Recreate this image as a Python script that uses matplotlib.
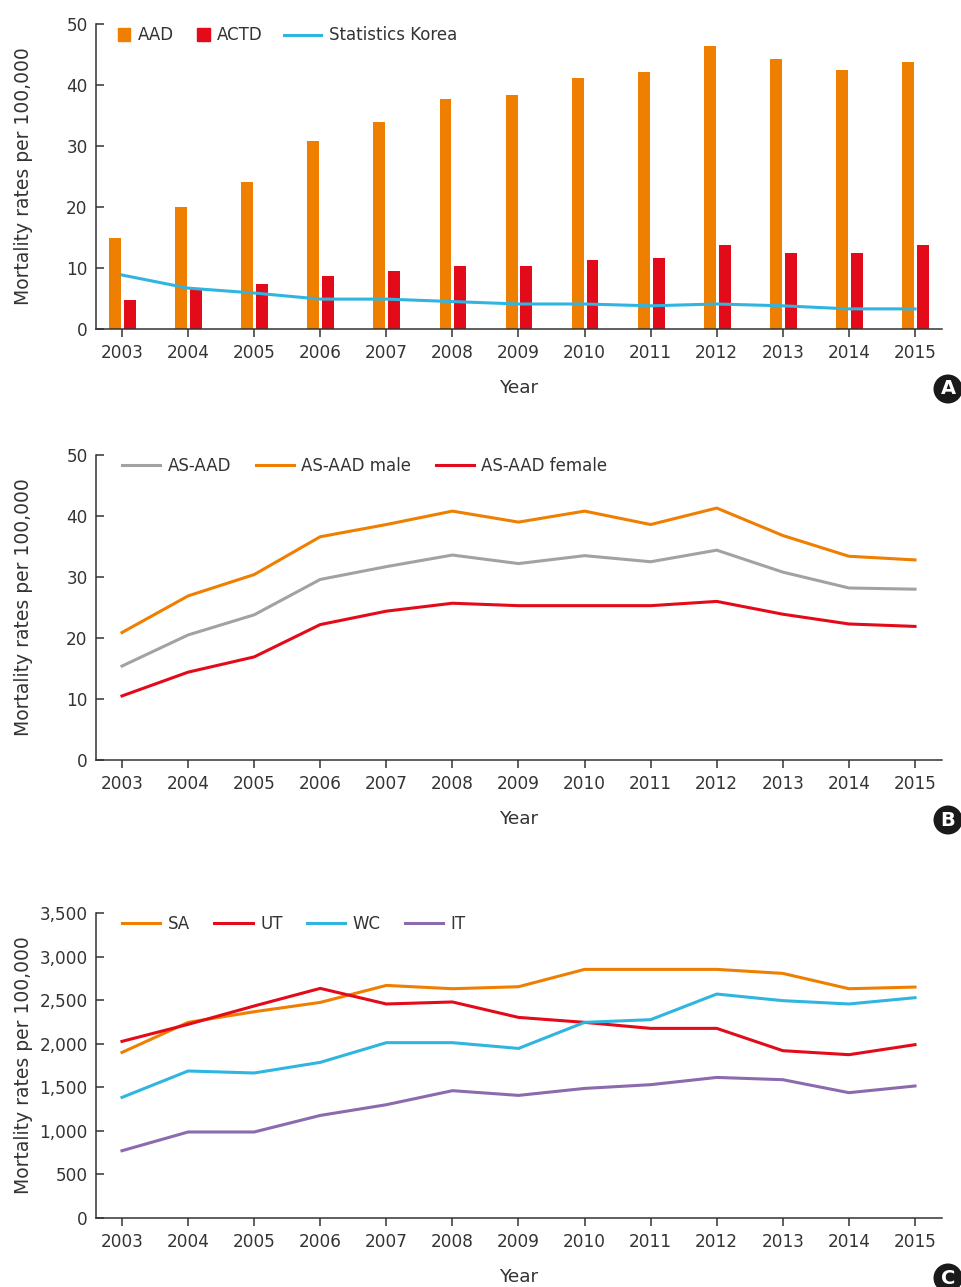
import matplotlib
matplotlib.use('Agg')
import matplotlib.pyplot as plt
import numpy as np
from matplotlib.patches import Patch, Circle
from matplotlib.lines import Line2D
from matplotlib.ticker import FuncFormatter

years = np.arange(2003, 2016)

# panel A
aad = [15.0, 20.0, 24.1, 30.8, 33.9, 37.7, 38.4, 41.1, 42.1, 46.4, 44.3, 42.5, 43.8]
actd = [4.75, 6.6, 7.4, 8.7, 9.5, 10.3, 10.3, 11.3, 11.6, 13.8, 12.5, 12.5, 13.8]
stat_korea = [8.85, 6.7, 5.9, 4.9, 4.9, 4.5, 4.1, 4.1, 3.8, 4.1, 3.8, 3.3, 3.3]

# panel B
as_aad = [15.4, 20.5, 23.8, 29.6, 31.7, 33.6, 32.2, 33.5, 32.5, 34.4, 30.8, 28.2, 28.0]
as_aad_male = [20.9, 26.9, 30.4, 36.6, 38.6, 40.8, 39.0, 40.8, 38.6, 41.3, 36.8, 33.4, 32.8]
as_aad_female = [10.5, 14.4, 16.9, 22.2, 24.4, 25.7, 25.3, 25.3, 25.3, 26.0, 23.9, 22.3, 21.9]

# panel C
sa = [1900, 2245, 2367, 2474, 2669, 2631, 2654, 2853, 2853, 2853, 2807, 2631, 2650]
ut = [2027, 2222, 2433, 2635, 2456, 2479, 2302, 2245, 2176, 2176, 1920, 1874, 1989]
wc = [1384, 1687, 1664, 1786, 2012, 2012, 1946, 2245, 2276, 2570, 2494, 2456, 2528]
it = [772, 987, 987, 1177, 1300, 1461, 1407, 1487, 1530, 1613, 1587, 1438, 1515]

ORANGE = '#EF7F00'
RED = '#E30A1A'
CYAN = '#2FB5E0'
GRAY = '#A2A2A2'
PURPLE = '#8B6AAD'
TXT = '#333333'

plt.rcParams['font.family'] = 'DejaVu Sans'
plt.rcParams['font.size'] = 12
plt.rcParams['text.color'] = TXT
plt.rcParams['axes.labelcolor'] = TXT
plt.rcParams['xtick.color'] = TXT
plt.rcParams['ytick.color'] = TXT

W, H = 962, 1287
fig = plt.figure(figsize=(W / 100, H / 100), dpi=100)


def make_ax(top, bottom):
    ax = fig.add_axes([96 / W, 1 - bottom / H, (942 - 96) / W, (bottom - top) / H])
    for s in ['top', 'right']:
        ax.spines[s].set_visible(False)
    for s in ['left', 'bottom']:
        ax.spines[s].set_color(TXT)
        ax.spines[s].set_linewidth(1.1)
    ax.set_xlim(2003 - 26 / 66.08, 2015 + 27 / 66.08)
    ax.set_xticks(years)
    ax.tick_params(axis='x', direction='out', length=6, width=1.1, pad=5, labelsize=12.2)
    ax.tick_params(axis='y', direction='in', length=6, width=1.1, pad=6, labelsize=12.2)
    ax.set_xlabel('Year', fontsize=13.3, labelpad=12)
    ax.set_ylabel('Mortality rates per 100,000', fontsize=13.5)
    ax.yaxis.set_label_coords(-0.074, 0.5)
    return ax


def badge(letter, cx, cy):
    c = Circle((cx / 100, (H - cy) / 100), 0.145, transform=fig.dpi_scale_trans,
               facecolor='#1a1a1a', edgecolor='none', clip_on=False)
    fig.patches.append(c)
    fig.text(cx / W, 1 - cy / H, letter, color='white', fontsize=14, fontweight='bold',
             ha='center', va='center')


# ---- A
ax = make_ax(24, 329)
ax.bar(years - 0.105, aad, width=0.18, color=ORANGE)
ax.bar(years + 0.12, actd, width=0.18, color=RED)
ax.plot(years, stat_korea, color=CYAN, lw=2.2)
ax.set_ylim(0, 50)
ax.set_yticks(range(0, 51, 10))
leg1 = ax.legend([Patch(color=ORANGE), Patch(color=RED)], ['AAD', 'ACTD'],
                 ncol=2, frameon=False, loc='upper left', bbox_to_anchor=(0.018, 1.014),
                 handlelength=0.75, handleheight=0.75, handletextpad=0.45, columnspacing=1.4,
                 borderaxespad=0)
ax.add_artist(leg1)
ax.legend([Line2D([], [], color=CYAN, lw=2.2)], ['Statistics Korea'], frameon=False,
          loc='upper left', bbox_to_anchor=((284 - 96) / 846 - 0.008, 1.014),
          handlelength=2.2, handletextpad=0.5, borderaxespad=0)
badge('A', 948, 389)

# ---- B
ax = make_ax(455, 760)
ax.plot(years, as_aad, color=GRAY, lw=2.2, label='AS-AAD')
ax.plot(years, as_aad_male, color=ORANGE, lw=2.2, label='AS-AAD male')
ax.plot(years, as_aad_female, color=RED, lw=2.2, label='AS-AAD female')
ax.set_ylim(0, 50)
ax.set_yticks(range(0, 51, 10))
ax.legend(ncol=3, frameon=False, loc='upper left', bbox_to_anchor=(0.023, 1.016),
          handlelength=2.3, handletextpad=0.45, columnspacing=1.45, borderaxespad=0)
badge('B', 948, 820)

# ---- C
ax = make_ax(913, 1218)
ax.plot(years, sa, color=ORANGE, lw=2.2, label='SA')
ax.plot(years, ut, color=RED, lw=2.2, label='UT')
ax.plot(years, wc, color=CYAN, lw=2.2, label='WC')
ax.plot(years, it, color=PURPLE, lw=2.2, label='IT')
ax.set_ylim(0, 3500)
ax.set_yticks(range(0, 3501, 500))
ax.yaxis.set_major_formatter(FuncFormatter(lambda v, p: f'{int(v):,}'))
ax.legend(ncol=4, frameon=False, loc='upper left', bbox_to_anchor=(0.023, 1.016),
          handlelength=2.3, handletextpad=0.45, columnspacing=1.45, borderaxespad=0)
badge('C', 948, 1278)

fig.savefig('out.png', dpi=100)
